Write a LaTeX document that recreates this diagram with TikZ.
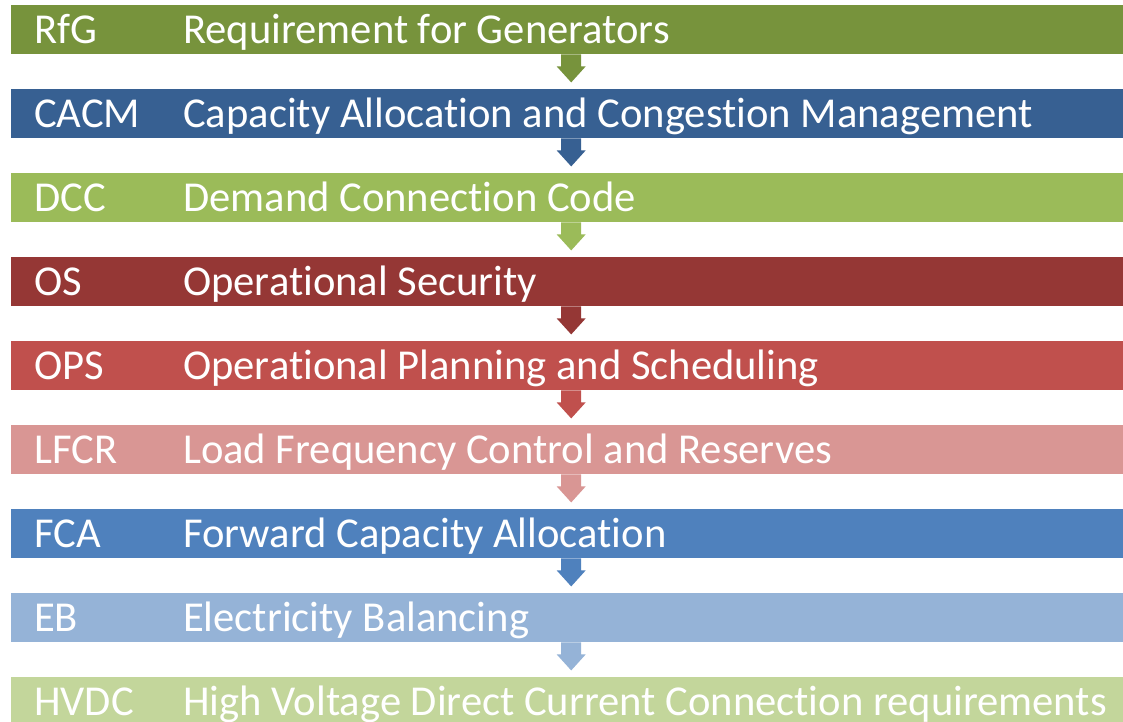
\documentclass[tikz,border=0pt]{standalone}
\usepackage{fontspec}
\setmainfont[Ligatures={NoCommon}]{Carlito}
\usetikzlibrary{calc}
\definecolor{cRfG}{HTML}{77933C}
\definecolor{cCACM}{HTML}{376092}
\definecolor{cDCC}{HTML}{9BBB59}
\definecolor{cOS}{HTML}{953735}
\definecolor{cOPS}{HTML}{C0504D}
\definecolor{cLFCR}{HTML}{D99694}
\definecolor{cFCA}{HTML}{4F81BD}
\definecolor{cEB}{HTML}{95B3D7}
\definecolor{cHVDC}{HTML}{C3D69B}
\tikzset{
  bar/.style={rectangle, fill=#1, draw=none, inner sep=0pt, minimum width=1120pt, minimum height=49pt, anchor=north west},
  lbl/.style={text=white, inner sep=0pt, anchor=base west, font=\fontsize{42.6}{50}\selectfont},
}
\newcommand{\flowarrow}[2]{%
  \fill[#2] ($(#1.south)+(-10,0)$) -- ($(#1.south)+(-10,12)$) -- ($(#1.south)+(-14.5,12)$)
    -- ($(#1.south)+(0,28)$) -- ($(#1.south)+(14.5,12)$) -- ($(#1.south)+(10,12)$)
    -- ($(#1.south)+(10,0)$) -- cycle;}
\begin{document}
\begin{tikzpicture}[x=1pt,y=-1pt]
\useasboundingbox (0,0) rectangle (1123,721);
\clip (0,0) rectangle (1123,721);
\fill[white] (0,0) rectangle (1123,721);
\foreach \i/\c/\a/\t in {
  1/cRfG/RfG/Requirement for Generators,
  2/cCACM/CACM/Capacity Allocation and Congestion Management,
  3/cDCC/DCC/Demand Connection Code,
  4/cOS/OS/Operational Security,
  5/cOPS/OPS/Operational Planning and Scheduling,
  6/cLFCR/LFCR/Load Frequency Control and Reserves,
  7/cFCA/FCA/Forward Capacity Allocation,
  8/cEB/EB/Electricity Balancing,
  9/cHVDC/HVDC/High Voltage Direct Current Connection requirements} {
  \node[bar=\c] (b\i) at (11,{5+84*(\i-1)}) {};
  \node[lbl] (a\i) at ($(b\i.north west)+(23,38)$) {\a};
  \node[lbl] (t\i) at ($(b\i.north west)+(172,38)$) {\t};
}
\flowarrow{b1}{cRfG}
\flowarrow{b2}{cCACM}
\flowarrow{b3}{cDCC}
\flowarrow{b4}{cOS}
\flowarrow{b5}{cOPS}
\flowarrow{b6}{cLFCR}
\flowarrow{b7}{cFCA}
\flowarrow{b8}{cEB}
\end{tikzpicture}
\end{document}
